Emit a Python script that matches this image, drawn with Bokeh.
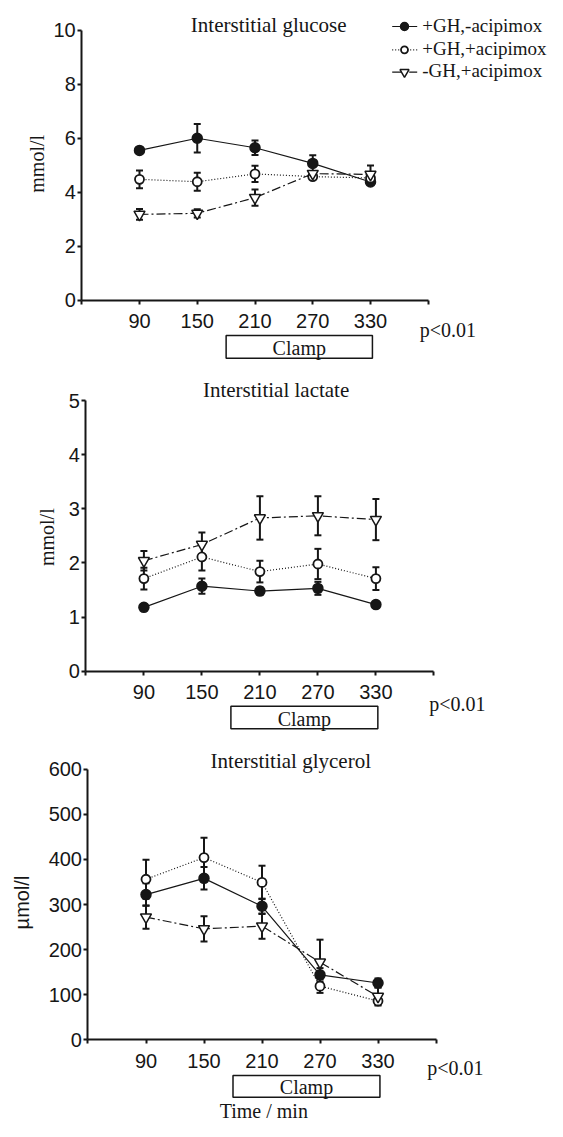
import math
from bokeh.plotting import figure
from bokeh.layouts import column
from bokeh.models import (Range1d, LinearAxis, FixedTicker, Label, Whisker,
                          ColumnDataSource, TeeHead)
from bokeh.embed import file_html
from bokeh.resources import INLINE

# ---------------- data ----------------
times = [90, 150, 210, 270, 330]
x_ticks = [30, 90, 150, 210, 270, 330, 390]
series_names = ["+GH,-acipimox", "+GH,+acipimox", "-GH,+acipimox"]

glucose_gh_noacip = [5.54, 5.99, 5.64, 5.06, 4.37]
glucose_gh_noacip_err = [0.08, 0.53, 0.27, 0.30, 0.08]
glucose_gh_acip = [4.47, 4.38, 4.67, 4.57, 4.52]
glucose_gh_acip_err = [0.33, 0.33, 0.30, 0.10, 0.10]
glucose_nogh_acip = [3.17, 3.21, 3.79, 4.68, 4.65]
glucose_nogh_acip_err = [0.20, 0.15, 0.30, 0.10, 0.33]
glucose_yticks = [0, 2, 4, 6, 8, 10]

lactate_gh_noacip = [1.18, 1.57, 1.48, 1.53, 1.23]
lactate_gh_noacip_err = [0.05, 0.14, 0.07, 0.12, 0.05]
lactate_gh_acip = [1.71, 2.11, 1.84, 1.98, 1.71]
lactate_gh_acip_err = [0.20, 0.25, 0.20, 0.28, 0.21]
lactate_nogh_acip = [2.04, 2.34, 2.83, 2.87, 2.80]
lactate_nogh_acip_err = [0.18, 0.22, 0.40, 0.36, 0.38]
lactate_yticks = [0, 1, 2, 3, 4, 5]

glycerol_gh_noacip = [322, 358, 296, 144, 126]
glycerol_gh_noacip_err = [25, 25, 17, 15, 10]
glycerol_gh_acip = [356, 404, 349, 119, 86]
glycerol_gh_acip_err = [43, 44, 37, 15, 8]
glycerol_nogh_acip = [272, 246, 252, 172, 96]
glycerol_nogh_acip_err = [26, 28, 28, 50, 20]
glycerol_yticks = [0, 100, 200, 300, 400, 500, 600]

clamp_start, clamp_end = 180, 332

INK = "#161616"
SERIF = "Liberation Serif"
SANS = "Liberation Sans"
FIG_W = 547
BASE_FIX = 6  # empirical correction for alphabetic-baseline labels

STYLES = [
    dict(dash="solid", marker="circle", size=10, fill=INK, lw=1.5),
    dict(dash="1 2", marker="circle", size=9, fill="white", lw=1.8),
    dict(dash="9 3 2 3", marker="inverted_triangle", size=11, fill="white", lw=1.5),
]


def make_panel(geom, yticks, ylabel, ylabel_font, ylabel_pos, title, title_pos,
               data, p_pos, clamp_y, clamp_text_y, legend=False, xlabel=None):
    top, h, x90, sx, y0, sy = geom

    def dx(px):
        return 90 + (px - x90) / sx

    def dy(py):
        return (y0 - py) / sy

    def dyb(py):  # baseline-positioned text
        return dy(py - BASE_FIX)

    p = figure(width=FIG_W, height=h,
               x_range=Range1d(dx(0), dx(FIG_W)),
               y_range=Range1d(dy(top + h), dy(top)),
               output_backend="svg", toolbar_location=None,
               x_axis_type=None, y_axis_type=None, min_border=0)
    p.outline_line_color = None
    p.background_fill_color = "white"
    p.border_fill_color = "white"

    def style_axis(ax):
        ax.axis_line_width = 2
        ax.axis_line_color = INK
        ax.major_tick_line_width = 2
        ax.major_tick_line_color = INK
        ax.major_tick_out = 4
        ax.major_tick_in = 0
        ax.minor_tick_out = 0
        ax.minor_tick_in = 0
        ax.major_label_text_font = SANS
        ax.major_label_text_font_size = "20px"
        ax.major_label_text_color = INK

    yax = LinearAxis(fixed_location=30, bounds=(yticks[0], yticks[-1]),
                     ticker=FixedTicker(ticks=yticks, minor_ticks=[]))
    style_axis(yax)
    yax.major_label_standoff = 2
    p.add_layout(yax, "left")

    xax = LinearAxis(fixed_location=0, bounds=(30, 390),
                     ticker=FixedTicker(ticks=x_ticks, minor_ticks=[]),
                     major_label_overrides={30: "", 390: ""})
    style_axis(xax)
    xax.major_label_standoff = 10
    p.add_layout(xax, "below")

    for (vals, errs), st in zip(data, STYLES):
        src = ColumnDataSource(dict(
            x=times, y=vals,
            upper=[v + e for v, e in zip(vals, errs)],
            lower=[v - e for v, e in zip(vals, errs)]))
        p.line("x", "y", source=src, line_color=INK, line_width=1.2,
               line_dash=st["dash"])
        w = Whisker(base="x", upper="upper", lower="lower", source=src,
                    line_width=2, line_color=INK, level="underlay",
                    upper_head=TeeHead(size=7, line_width=2, line_color=INK),
                    lower_head=TeeHead(size=7, line_width=2, line_color=INK))
        p.add_layout(w)
        p.scatter("x", "y", source=src, marker=st["marker"], size=st["size"],
                  fill_color=st["fill"], line_color=INK, line_width=st["lw"])

    p.add_layout(Label(x=dx(title_pos[0]), y=dyb(title_pos[1]), text=title,
                       text_font=SERIF, text_font_size="21px", text_color=INK,
                       text_align="center", text_baseline="alphabetic"))
    p.add_layout(Label(x=dx(ylabel_pos[0]), y=dy(ylabel_pos[1]), text=ylabel,
                       text_font=ylabel_font, text_font_size="20px", text_color=INK,
                       angle=math.pi / 2, text_align="center", text_baseline="middle"))
    p.add_layout(Label(x=dx(p_pos[0]), y=dyb(p_pos[1]), text="p<0.01",
                       text_font=SERIF, text_font_size="20px", text_color=INK,
                       text_align="left", text_baseline="alphabetic"))
    p.quad(left=[clamp_start], right=[clamp_end], top=[dy(clamp_y[0])],
           bottom=[dy(clamp_y[1])], fill_color=None, line_color=INK, line_width=1.5)
    p.add_layout(Label(x=(clamp_start + clamp_end) / 2, y=dyb(clamp_text_y),
                       text="Clamp", text_font=SERIF, text_font_size="20px",
                       text_color=INK, text_align="center", text_baseline="alphabetic"))

    if xlabel is not None:
        p.add_layout(Label(x=dx(xlabel[0]), y=dyb(xlabel[1]), text=xlabel[2],
                           text_font=SERIF, text_font_size="20px", text_color=INK,
                           text_align="center", text_baseline="alphabetic"))

    if legend:
        rows = [(26.0, 30.7), (49.3, 53.5), (71.7, 76.0)]
        for (cy, by), st, name in zip(rows, STYLES, series_names):
            p.line([dx(391.7), dx(416.7)], [dy(cy), dy(cy)], line_color=INK,
                   line_width=1.2, line_dash=st["dash"])
            p.scatter([dx(404)], [dy(cy)], marker=st["marker"], size=st["size"] - 2,
                      fill_color=st["fill"], line_color=INK, line_width=st["lw"])
            p.add_layout(Label(x=dx(421.7), y=dyb(by), text=name, text_font=SERIF,
                               text_font_size="19px", text_color=INK,
                               text_align="left", text_baseline="alphabetic"))
    return p


S3 = 10  # panel 3 lifted slightly so its axis title fits the page

p1 = make_panel((0, 362, 139.0, 0.9625, 299.5, 27.0), glucose_yticks,
                "mmol/l", SERIF, (36, 163.3), "Interstitial glucose", (268.2, 30),
                [(glucose_gh_noacip, glucose_gh_noacip_err),
                 (glucose_gh_acip, glucose_gh_acip_err),
                 (glucose_nogh_acip, glucose_nogh_acip_err)],
                (419.3, 335), (335, 357.7), 353.3, legend=True)

p2 = make_panel((362, 370, 143.4, 0.9667, 670.7, 54.14), lactate_yticks,
                "mmol/l", SERIF, (46.1, 536.7), "Interstitial lactate", (275.6, 395),
                [(lactate_gh_noacip, lactate_gh_noacip_err),
                 (lactate_gh_acip, lactate_gh_acip_err),
                 (lactate_nogh_acip, lactate_nogh_acip_err)],
                (428.7, 709), (705.7, 728.3), 724)

p3 = make_panel((732, 389, 145.5, 0.9667, 1049.3 - S3, 0.451), glycerol_yticks,
                "\u00b5mol/l", SANS, (21.7, 912 - S3), "Interstitial glycerol",
                (290.3, 776.7 - S3),
                [(glycerol_gh_noacip, glycerol_gh_noacip_err),
                 (glycerol_gh_acip, glycerol_gh_acip_err),
                 (glycerol_nogh_acip, glycerol_nogh_acip_err)],
                (426.7, 1083.3 - S3), (1085 - S3, 1106.7 - S3), 1102.7 - S3,
                xlabel=(263.3, 1116, "Time / min"))

layout = column(p1, p2, p3, spacing=0)
open("out.html", "w").write(file_html(layout, INLINE))
